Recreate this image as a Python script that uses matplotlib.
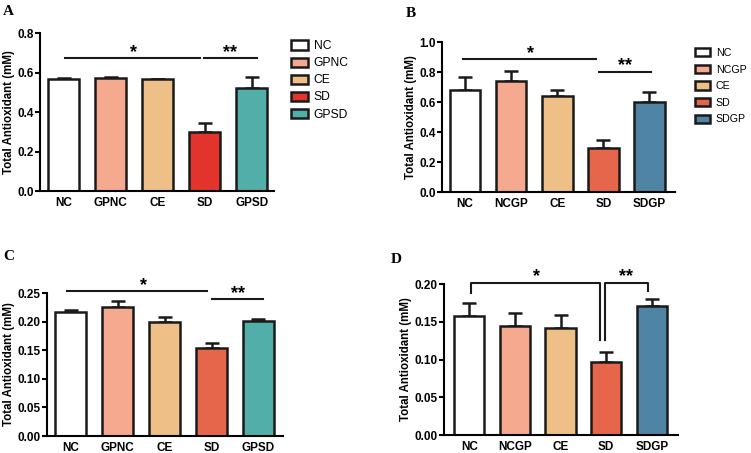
import matplotlib.pyplot as plt
from matplotlib.patches import Patch

plt.rcParams['font.family'] = ['Liberation Sans', 'DejaVu Sans']

# 데이터
groups_a = ['NC', 'GPNC', 'CE', 'SD', 'GPSD']
groups_b = ['NC', 'NCGP', 'CE', 'SD', 'SDGP']
groups_c = ['NC', 'GPNC', 'CE', 'SD', 'GPSD']
groups_d = ['NC', 'NCGP', 'CE', 'SD', 'SDGP']

mean_a = [0.568, 0.573, 0.566, 0.300, 0.520]
err_a = [0.003, 0.005, 0.004, 0.047, 0.060]
mean_b = [0.682, 0.740, 0.640, 0.293, 0.604]
err_b = [0.085, 0.070, 0.038, 0.056, 0.064]
mean_c = [0.2174, 0.2256, 0.1988, 0.1535, 0.2010]
err_c = [0.0029, 0.0114, 0.0092, 0.0099, 0.0040]
mean_d = [0.158, 0.144, 0.1416, 0.0973, 0.171]
err_d = [0.017, 0.017, 0.0174, 0.0124, 0.009]

colors_a = ['white', '#F5A98F', '#EEBF86', '#E2332C', '#52AEA9']
colors_b = ['white', '#F5A98F', '#EEBF86', '#E6664C', '#4F84A5']
colors_c = ['white', '#F5A98F', '#EEBF86', '#E6664C', '#52AEA9']
colors_d = ['white', '#F5A98F', '#EEBF86', '#E6664C', '#4F84A5']

fig = plt.figure(figsize=(7.51, 4.53), dpi=100)


def bar_panel(rect, names, vals, errs, cols, ymax, ystep, fmt, xlim):
    ax = fig.add_axes(rect)
    x = range(len(names))
    ax.bar(x, vals, width=0.66, color=cols, edgecolor='#1a1a1a', linewidth=1.8, zorder=2)
    ax.errorbar(x, vals, yerr=[[0] * len(vals), errs], fmt='none', ecolor='#1a1a1a',
                elinewidth=1.8, capsize=5, capthick=1.8, zorder=1)
    ax.set_xlim(*xlim)
    ax.set_ylim(0, ymax)
    ticks = [i * ystep for i in range(int(round(ymax / ystep)) + 1)]
    ax.set_yticks(ticks)
    ax.set_yticklabels([fmt.format(t) for t in ticks], fontsize=8.5, fontweight='bold')
    ax.set_xticks(list(x))
    ax.set_xticklabels(names, fontsize=8.5, fontweight='bold')
    ax.tick_params(axis='x', length=0, pad=4)
    ax.tick_params(axis='y', length=3.5, width=1.5, pad=1)
    for s in ['top', 'right']:
        ax.spines[s].set_visible(False)
    for s in ['left', 'bottom']:
        ax.spines[s].set_linewidth(1.5)
    ax.set_ylabel('Total Antioxidant (mM)', fontsize=8.3, fontweight='bold', labelpad=2)
    return ax


def add_legend(ax, names, cols, anchor, size, space):
    handles = [Patch(facecolor=c, edgecolor='#1a1a1a', linewidth=1.8) for c in cols]
    ax.legend(handles, names, loc='upper left', bbox_to_anchor=anchor, frameon=False,
              fontsize=size, handlelength=1.4, handleheight=0.8, handletextpad=0.5,
              labelspacing=space, borderaxespad=0)


# A
ax_a = bar_panel([0.0533, 0.578, 0.312, 0.349], groups_a, mean_a, err_a, colors_a,
                 0.8, 0.2, '{:.1f}', (-0.5, 4.48))
ax_a.plot([0.03, 2.89], [0.675, 0.675], color='#1a1a1a', lw=1.5, clip_on=False)
ax_a.plot([2.99, 4.11], [0.675, 0.675], color='#1a1a1a', lw=1.5, clip_on=False)
ax_a.text(1.48, 0.66, '*', ha='center', va='bottom', fontsize=13, fontweight='bold')
ax_a.text(3.53, 0.66, '**', ha='center', va='bottom', fontsize=13, fontweight='bold')
add_legend(ax_a, groups_a, colors_a, (1.05, 0.985), 8.7, 0.42)

# B
ax_b = bar_panel([0.5886, 0.576, 0.310, 0.331], groups_b, mean_b, err_b, colors_b,
                 1.0, 0.2, '{:.1f}', (-0.5, 4.55))
ax_b.plot([-0.05, 2.83], [0.889, 0.889], color='#1a1a1a', lw=1.5, clip_on=False)
ax_b.plot([2.90, 4.04], [0.804, 0.804], color='#1a1a1a', lw=1.5, clip_on=False)
ax_b.text(1.41, 0.87, '*', ha='center', va='bottom', fontsize=13, fontweight='bold')
ax_b.text(3.47, 0.785, '**', ha='center', va='bottom', fontsize=13, fontweight='bold')
add_legend(ax_b, groups_b, colors_b, (1.07, 0.99), 7.7, 0.62)

# C
ax_c = bar_panel([0.0626, 0.0375, 0.314, 0.3155], groups_c, mean_c, err_c, colors_c,
                 0.25, 0.05, '{:.2f}', (-0.51, 4.52))
ax_c.plot([-0.08, 2.91], [0.253, 0.253], color='#1a1a1a', lw=1.5, clip_on=False)
ax_c.plot([3.01, 4.10], [0.239, 0.239], color='#1a1a1a', lw=1.5, clip_on=False)
ax_c.text(1.55, 0.249, '*', ha='center', va='bottom', fontsize=13, fontweight='bold')
ax_c.text(3.57, 0.235, '**', ha='center', va='bottom', fontsize=13, fontweight='bold')

# D
ax_d = bar_panel([0.591, 0.0397, 0.312, 0.3333], groups_d, mean_d, err_d, colors_d,
                 0.20, 0.05, '{:.2f}', (-0.56, 4.58))
ax_d.plot([0.03, 0.03, 2.87, 2.87], [0.188, 0.202, 0.202, 0.126], color='#1a1a1a',
          lw=1.5, clip_on=False)
ax_d.plot([2.97, 2.97, 3.92, 3.92], [0.126, 0.202, 0.202, 0.191], color='#1a1a1a',
          lw=1.5, clip_on=False)
ax_d.text(1.47, 0.199, '*', ha='center', va='bottom', fontsize=13, fontweight='bold')
ax_d.text(3.44, 0.199, '**', ha='center', va='bottom', fontsize=13, fontweight='bold')

# 패널 라벨
for lx, ly, lab in [(0.004, 0.99, 'A'), (0.54, 0.985, 'B'), (0.004, 0.449, 'C'), (0.521, 0.442, 'D')]:
    fig.text(lx, ly, lab, fontsize=11, fontweight='bold', family=['Liberation Serif', 'DejaVu Serif'],
             va='top')

fig.savefig('out.png', dpi=100)
